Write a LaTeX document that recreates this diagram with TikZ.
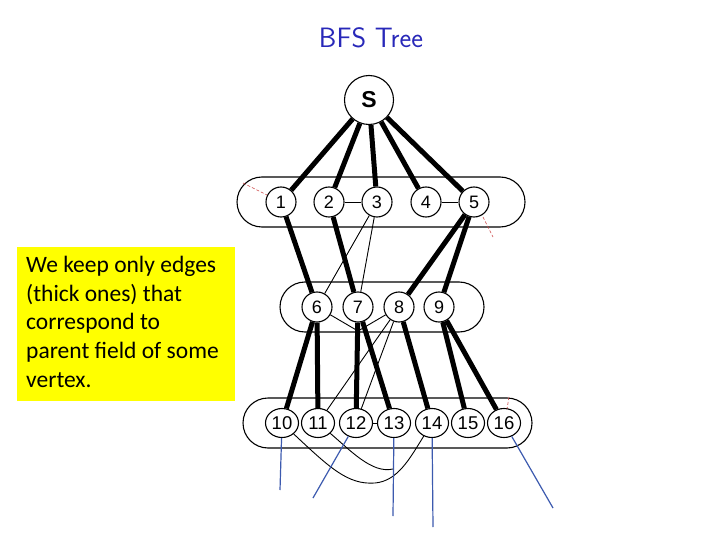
\documentclass[tikz,border=0pt]{standalone}
\usepackage{fontspec}
\newfontfamily\nodefont{Liberation Sans}
\newfontfamily\notefont{Carlito}
\usetikzlibrary{shapes.geometric}
\definecolor{titleblue}{RGB}{40,40,185}
\definecolor{raycol}{RGB}{60,90,175}
\definecolor{noteyellow}{RGB}{255,255,0}
\definecolor{cutred}{RGB}{205,70,70}
\tikzset{
  vtx/.style={circle, draw, line width=1.1pt, fill=white, inner sep=0pt, minimum size=30pt,
    font=\nodefont\fontsize{18}{18}\selectfont},
  vtxw/.style={ellipse, draw, line width=1.1pt, fill=white, inner sep=0pt, minimum width=33pt,
    minimum height=29pt, font=\nodefont\fontsize{18.5}{18.5}\selectfont},
  root/.style={circle, draw, line width=1.1pt, fill=white, inner sep=0pt, minimum size=49pt,
    font=\nodefont\bfseries\fontsize{23}{23}\selectfont},
  levelbox/.style={draw, line width=1.1pt, rounded corners=25pt, minimum height=50pt, inner sep=0pt},
  treeedge/.style={line width=5pt},
  crossedge/.style={line width=0.9pt},
  ray/.style={raycol, line width=1.2pt},
  cutmark/.style={cutred, dashed, dash pattern=on 3pt off 2pt, line width=0.6pt},
}
\begin{document}
\begin{tikzpicture}[x=1pt, y=-1pt]
\fill[white] (0,0) rectangle (720,540);
\useasboundingbox (0,0) rectangle (720,540);

% title
\node[font=\sffamily\fontsize{28}{28}\selectfont, text=titleblue, anchor=base] (title) at (371,48) {BFS Tree};

% note
\node[fill=noteyellow, inner sep=0pt, minimum width=218pt, minimum height=154pt, anchor=north west] (notebg) at (17,247) {};
\node[anchor=north west, inner sep=0pt, align=left, font=\notefont\fontsize{23.5}{28.7}\selectfont] (note) at (26,256)
  {We keep only edges\\(thick ones) that\\correspond to\\parent field of some\\vertex.};

% level boxes
\node[levelbox, minimum width=288pt] (L1) at (381,202) {};
\node[levelbox, minimum width=204pt] (L2) at (382,307) {};
\node[levelbox, minimum width=289pt] (L3) at (387.5,423) {};

% vertices
\node[root] (S) at (369,100) {S};
\node[vtx] (N1) at (281,202) {1};
\node[vtx] (N2) at (329,202) {2};
\node[vtx] (N3) at (377,202) {3};
\node[vtx] (N4) at (426,202) {4};
\node[vtx] (N5) at (474,202) {5};
\node[vtx] (N6) at (317,307) {6};
\node[vtx] (N7) at (358,307) {7};
\node[vtx] (N8) at (399,307) {8};
\node[vtx] (N9) at (439,307) {9};
\node[vtxw] (N10) at (282,423) {10};
\node[vtxw] (N11) at (318,423) {11};
\node[vtxw] (N12) at (356,423) {12};
\node[vtxw] (N13) at (394,423) {13};
\node[vtxw] (N14) at (432,423) {14};
\node[vtxw] (N15) at (468,423) {15};
\node[vtxw] (N16) at (504,423) {16};

% coordinates
\coordinate (v7) at (358,331);
\coordinate (m) at (393,469);
\coordinate (r10) at (280,490);
\coordinate (r12) at (313,498);
\coordinate (r13) at (393,516);
\coordinate (r14) at (433,527);
\coordinate (r16) at (553,508);
\coordinate (ca1) at (243,183);
\coordinate (ca2) at (267,195);
\coordinate (cb1) at (483,217);
\coordinate (cb2) at (493,237);
\coordinate (cc1) at (509,397);
\coordinate (cc2) at (507,409);

% tree edges
\draw[treeedge] (S) -- (N1);
\draw[treeedge] (S) -- (N2);
\draw[treeedge] (S) -- (N3);
\draw[treeedge] (S) -- (N4);
\draw[treeedge] (S) -- (N5);
\draw[treeedge] (N1) -- (N6);
\draw[treeedge] (N2) -- (N7);
\draw[treeedge] (N5) -- (N8);
\draw[treeedge] (N5) -- (N9);
\draw[treeedge] (N6) -- (N10);
\draw[treeedge] (N6) -- (N11);
\draw[treeedge] (N7) -- (N12);
\draw[treeedge] (N7) -- (N13);
\draw[treeedge] (N8) -- (N14);
\draw[treeedge] (N9) -- (N15);
\draw[treeedge] (N9) -- (N16);

% other edges
\draw[crossedge] (N2) -- (N3);
\draw[crossedge] (N4) -- (N5);
\draw[crossedge] (N3) -- (N6);
\draw[crossedge] (N3) -- (N7);
\draw[crossedge] (N6) -- (v7) -- (N8);
\draw[crossedge] (N8) -- (N11);
\draw[crossedge] (N8) -- (N12);
\draw[crossedge] (N12) -- (N13);
\draw[crossedge] (N10) .. controls (330,468) and (348,485) .. (375,483) .. controls (398,481) and (410,458) .. (N14);
\draw[crossedge] (N11) .. controls (350,450) and (372,474) .. (m);

% rays
\draw[ray] (N10) -- (r10);
\draw[ray] (N12) -- (r12);
\draw[ray] (N13) -- (r13);
\draw[ray] (N14) -- (r14);
\draw[ray] (N16) -- (r16);

% cut marks
\draw[cutmark] (ca1) -- (ca2);
\draw[cutmark] (cb1) -- (cb2);
\draw[cutmark] (cc1) -- (cc2);
\end{tikzpicture}
\end{document}
